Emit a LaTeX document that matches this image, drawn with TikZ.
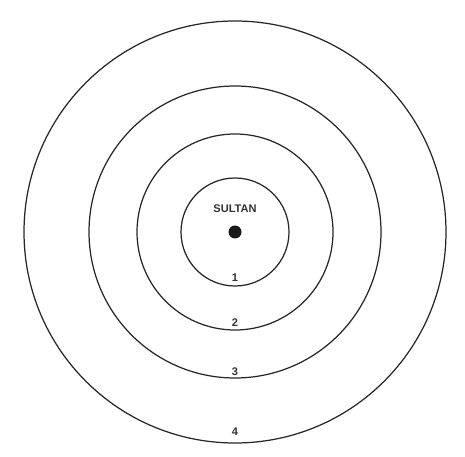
\documentclass[tikz,border=0pt]{standalone}
\usepackage{fontspec}
\setmainfont{Liberation Sans}
\tikzset{
	ring/.style={draw=black!85, line width=0.7pt},
	ringlabel/.style={inner sep=0pt, text=black!80}
}
\begin{document}
\begin{tikzpicture}[x=0.02cm, y=0.02cm, font=\fontsize{6.3}{7}\selectfont\bfseries]
	\useasboundingbox (0,0) rectangle (465,456);
	\coordinate (sultan) at (235,224);
	\draw[ring] (sultan) circle (54);
	\draw[ring] (sultan) circle (98);
	\draw[ring] (sultan) circle (146);
	\draw[ring] (sultan) circle (211);
	\fill[black!90] (sultan) circle (6.5);
	\node[ringlabel] (name) at (235,247) {SULTAN};
	\node[ringlabel] (n1) at (235,178) {1};
	\node[ringlabel] (n2) at (235,133) {2};
	\node[ringlabel] (n3) at (235,84) {3};
	\node[ringlabel] (n4) at (235,24) {4};
\end{tikzpicture}
\end{document}
